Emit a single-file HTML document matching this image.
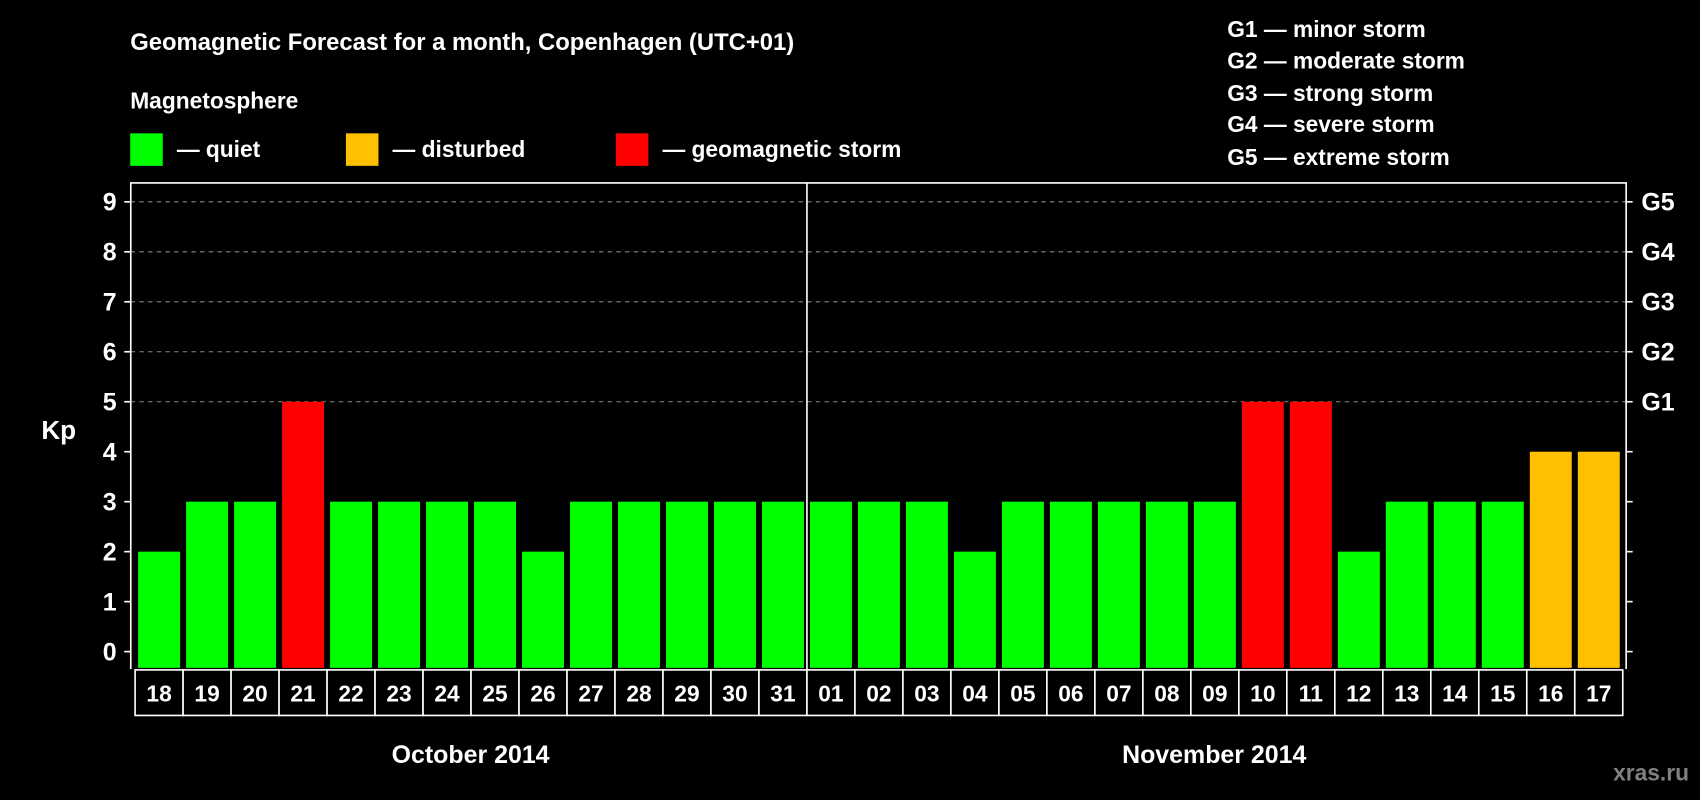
<!DOCTYPE html>
<html><head><meta charset="utf-8"><style>
html,body{margin:0;padding:0;background:#000;}
svg{display:block;}
text{font-family:"Liberation Sans",Arial,sans-serif;font-weight:bold;fill:#fff;}
</style></head><body>
<svg id="chart" width="1700" height="800" viewBox="0 0 1568 738" xmlns="http://www.w3.org/2000/svg">
<rect x="0" y="0" width="1568" height="738" fill="#000"/>
<text x="120" y="46" font-size="22">Geomagnetic Forecast for a month, Copenhagen (UTC+01)</text>
<text x="120" y="100" font-size="21">Magnetosphere</text>
<rect x="120" y="123" width="30" height="30" fill="#00ff00"/>
<text x="163" y="145" font-size="21">— quiet</text>
<rect x="319" y="123" width="30" height="30" fill="#ffc000"/>
<text x="362" y="145" font-size="21">— disturbed</text>
<rect x="568" y="123" width="30" height="30" fill="#ff0000"/>
<text x="611" y="145" font-size="21">— geomagnetic storm</text>
<g font-size="21">
<text x="1132" y="34">G1 — minor storm</text>
<text x="1132" y="63">G2 — moderate storm</text>
<text x="1132" y="93">G3 — strong storm</text>
<text x="1132" y="122">G4 — severe storm</text>
<text x="1132" y="152">G5 — extreme storm</text>
</g>
<text x="38" y="405" font-size="24">Kp</text>
<g id="plot"></g>
<text x="434" y="704" font-size="23" text-anchor="middle">October 2014</text>
<text x="1120" y="704" font-size="23" text-anchor="middle">November 2014</text>
<text x="1558" y="720" font-size="21" text-anchor="end" style="fill:#808080">xras.ru</text>
</svg>
<script>
const days = ["18","19","20","21","22","23","24","25","26","27","28","29","30","31","01","02","03","04","05","06","07","08","09","10","11","12","13","14","15","16","17"];
const kp = [2,3,3,5,3,3,3,3,2,3,3,3,3,3,3,3,3,2,3,3,3,3,3,5,5,2,3,3,3,4,4];
const yTicks = [0,1,2,3,4,5,6,7,8,9];
const gLabels = ["","","","","","G1","G2","G3","G4","G5"];

const NS="http://www.w3.org/2000/svg";
const g=document.getElementById('plot');
const L=120.5,R=1500,T=168.8,Y0=601.1,U=46.1,X0=127.3,P=44.27,BW=38.7;
const y=v=>Y0-v*U;
const x=i=>X0+i*P;
function mk(t,a){const e=document.createElementNS(NS,t);for(const k in a)e.setAttribute(k,a[k]);g.appendChild(e);return e;}
// grid
yTicks.forEach(v=>{
  if(v>=5){const l=mk('line',{x1:L,x2:R,y1:y(v),y2:y(v),stroke:'#888','stroke-width':1,'stroke-dasharray':'4,4'});
  
  }
  const t1=mk('line',{x1:L-6,x2:L,y1:y(v),y2:y(v),stroke:'#fff','stroke-width':1.5});
  
  
  const t2=mk('line',{x1:R,x2:R+6,y1:y(v),y2:y(v),stroke:'#fff','stroke-width':1.5});
  
  
  const tl=mk('text',{x:L-13,y:y(v)+8,'font-size':23,'text-anchor':'end'});tl.textContent=v;
  
  
  if(gLabels[v]){const gl=mk('text',{x:R+14,y:y(v)+8,'font-size':23});gl.textContent=gLabels[v];
  
  }
});
// bars
kp.forEach((v,i)=>{
  const c=v>=5?'#ff0000':(v>=4?'#ffc000':'#00ff00');
  const b=mk('rect',{x:x(i),y:y(v),width:BW,height:y(0)+15-y(v),fill:c});
  
  
});
// axes
const ax=mk('path',{d:`M${L},${Y0+16}V${T}H${R}V${Y0+16}`,fill:'none',stroke:'#fff','stroke-width':1.5});


const sep=mk('line',{x1:x(14)-2.8,x2:x(14)-2.8,y1:T,y2:Y0+16,stroke:'#fff','stroke-width':1.5});


// day label boxes
const bt=618,bh=42;
days.forEach((d,i)=>{
  const cx=x(i)-2.8;
  const r=mk('rect',{x:cx,y:bt,width:P,height:bh,fill:'#000',stroke:'#fff','stroke-width':1.5});
  
  
  const t=mk('text',{x:cx+P/2,y:bt+29,'font-size':21,'text-anchor':'middle'});t.textContent=d;
  
  
});
</script>
</body></html>
